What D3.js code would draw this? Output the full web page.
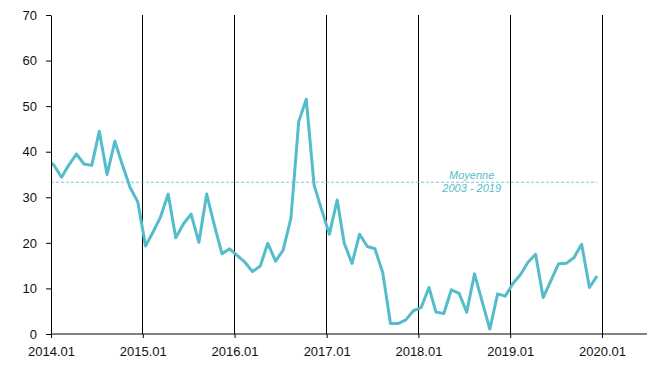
<!DOCTYPE html>
<html><head><meta charset="utf-8">
<script src="https://cdn.jsdelivr.net/npm/d3@7"></script>
<style>
body{margin:0;background:#fff;}
svg{display:block;font-family:"Liberation Sans",Arial,sans-serif;}
</style></head>
<body><svg id="c" width="660" height="379"></svg>
<script>
// Monthly series, first value is Dec 2013 (clipped at the axis), then Jan 2014 .. Dec 2019
const startMonth = [2013, 11];
const values = [38.5,
 37.1,34.4,37.0,39.5,37.3,37.0,44.5,35.0,42.3,37.1,32.1,29.0,
 19.3,22.5,25.6,30.7,21.1,24.2,26.3,20.1,30.7,24.0,17.6,18.7,
 17.2,15.7,13.7,14.9,19.9,16.0,18.4,25.4,46.6,51.5,32.7,27.3,
 21.9,29.4,19.9,15.5,21.9,19.2,18.7,13.5,2.3,2.3,3.1,5.1,
 5.8,10.2,4.8,4.5,9.7,8.9,4.8,13.2,7.0,1.1,8.8,8.3,
 11.1,13.1,15.7,17.5,8.0,11.7,15.4,15.5,16.8,19.7,10.2,12.7];
const yearTicks = [2014,2015,2016,2017,2018,2019,2020];
const tickLabels = ["2014.01","2015.01","2016.01","2017.01","2018.01","2019.01","2020.01"];
const yTicks = [0,10,20,30,40,50,60,70];
const average = 33.3;
const averageLabel = ["Moyenne","2003 - 2019"];

const svg = d3.select("#c");
const m = {left:51, top:15, bottom:45};
const H = 379 - m.top - m.bottom;
const x = d3.scaleUtc().domain([new Date(Date.UTC(2014,0,1)), new Date(Date.UTC(2020,0,1))]).range([m.left, 602]);
const xEnd = 647;
const y = d3.scaleLinear().domain([0,70]).range([m.top+H, m.top]);

const data = values.map((v,i)=>({d:new Date(Date.UTC(startMonth[0], startMonth[1]+i, 12)), v}));

const lineColor = "#55bccb";

// vertical year lines
svg.append("g").selectAll("line").data(yearTicks.slice(1)).join("line")
  .attr("x1",d=>x(new Date(Date.UTC(d,0,1)))).attr("x2",d=>x(new Date(Date.UTC(d,0,1))))
  .attr("y1",y(70)).attr("y2",y(0)).attr("stroke","#000").attr("stroke-width",1).attr("shape-rendering","crispEdges");

// average line
svg.append("line").attr("x1",x.range()[0]).attr("x2",x(new Date(Date.UTC(2019,11,12))))
  .attr("y1",y(average)).attr("y2",y(average))
  .attr("stroke",lineColor).attr("stroke-width",0.8).attr("stroke-dasharray","3,2");
const avgX = x(new Date(Date.UTC(2018,7,1)));
svg.append("text").attr("x",avgX).attr("y",y(average)-3).attr("text-anchor","middle")
  .attr("font-size",11).attr("font-style","italic").attr("fill",lineColor).text(averageLabel[0]);
svg.append("text").attr("x",avgX).attr("y",y(average)+10).attr("text-anchor","middle")
  .attr("font-size",11).attr("font-style","italic").attr("fill",lineColor).text(averageLabel[1]);

// clip
svg.append("clipPath").attr("id","clip").append("rect")
  .attr("x",m.left).attr("y",0).attr("width",xEnd-m.left).attr("height",379);

svg.append("path").datum(data).attr("clip-path","url(#clip)")
  .attr("fill","none").attr("stroke",lineColor).attr("stroke-width",3)
  .attr("stroke-linejoin","round")
  .attr("d",d3.line().x(d=>x(d.d)).y(d=>y(d.v)));

// y axis
const ya = svg.append("g").attr("transform",`translate(${m.left},0)`)
  .call(d3.axisLeft(y).tickValues(yTicks).tickSize(5).tickPadding(9).tickSizeOuter(0));
ya.select(".domain").attr("stroke","#000");
ya.selectAll("text").attr("font-size",13).attr("fill","#111").attr("font-family","Liberation Sans, Arial, sans-serif");

// x axis
const xa = svg.append("g").attr("transform",`translate(0,${y(0)})`)
  .call(d3.axisBottom(x).tickValues(yearTicks.map(v=>new Date(Date.UTC(v,0,1))))
    .tickFormat((d,i)=>tickLabels[i]).tickSize(4).tickPadding(9).tickSizeOuter(0));
xa.select(".domain").remove();
xa.append("line").attr("x1",m.left).attr("x2",xEnd).attr("y1",0).attr("y2",0).attr("stroke","#000");
xa.selectAll("text").attr("font-size",13).attr("fill","#111").attr("font-family","Liberation Sans, Arial, sans-serif");
</script></body></html>
